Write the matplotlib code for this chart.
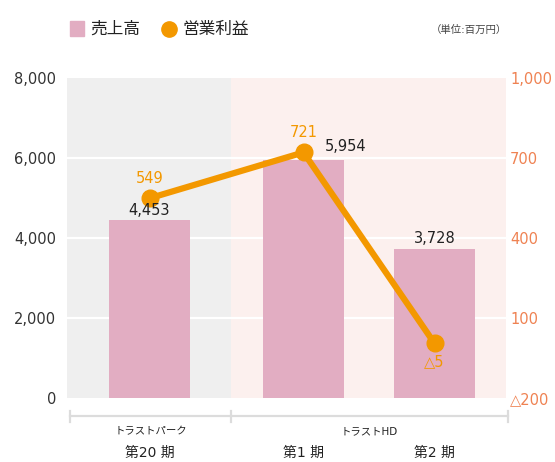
import matplotlib.pyplot as plt
from matplotlib.patches import Rectangle
from matplotlib.lines import Line2D
from matplotlib.transforms import blended_transform_factory

plt.rcParams['font.family'] = ['DejaVu Sans', 'Noto Sans CJK JP']

# data
periods = ['第20 期', '第1 期', '第2 期']
groups = ['トラストパーク', 'トラストHD']
sales = [4453, 5954, 3728]
profit = [549, 721, 5]
sales_labels = ['4,453', '5,954', '3,728']
profit_labels = ['549', '721', '△5']
left_ticks = [0, 2000, 4000, 6000, 8000]
left_ticklabels = ['0', '2,000', '4,000', '6,000', '8,000']
right_ticks = [-200, 100, 400, 700, 1000]
right_ticklabels = ['△200', '100', '400', '700', '1,000']

# layout (pixel-like x units)
W, H = 555, 462
xpos = [149.5, 303.5, 434.5]
bar_w = 81
x_left, x_sep, x_right = 67, 231, 506

BAR = '#e2adc2'
ORANGE = '#f39800'
CORAL = '#ef8252'
TXT = '#222222'


def fx(px):
    return px / W


def fy(py):
    return 1 - py / H


fig = plt.figure(figsize=(W / 100, H / 100), dpi=100)
ax = fig.add_axes([fx(x_left), fy(398), (x_right - x_left) / W, 320 / H])
ax.set_xlim(x_left, x_right)
ax.set_ylim(0, 8000)

ax.axvspan(x_left, x_sep, color='#efefef', zorder=0, lw=0)
ax.axvspan(x_sep, x_right, color='#fcf0ee', zorder=0, lw=0)
for v in left_ticks[1:-1]:
    ax.axhline(v, color='white', lw=1.6, zorder=1)

ax.bar(xpos, sales, width=bar_w, color=BAR, zorder=2)

ax.set_yticks(left_ticks)
ax.set_yticklabels(left_ticklabels, fontsize=10.5, color='#333333')
ax.set_xticks([])
ax.tick_params(axis='y', length=0, pad=8)
for s in ax.spines.values():
    s.set_visible(False)

ax2 = ax.twinx()
ax2.set_ylim(-200, 1000)
ax2.plot(xpos, profit, color=ORANGE, lw=4.5, marker='o', markersize=12,
         solid_capstyle='round', zorder=5)
profit_offsets = [(0, 9), (0, 9), (0, -8)]
for x, v, lab, off in zip(xpos, profit, profit_labels, profit_offsets):
    ax2.annotate(lab, (x, v), xytext=off, textcoords='offset points',
                 ha='center', va='bottom' if off[1] > 0 else 'top',
                 fontsize=10.5, color=ORANGE)
ax2.set_yticks(right_ticks)
ax2.set_yticklabels(right_ticklabels, fontsize=10.5, color=CORAL)
ax2.tick_params(axis='y', length=0, pad=3)
for s in ax2.spines.values():
    s.set_visible(False)

# bar value labels on top of everything
sales_offsets = [(0, 1), (30, 4), (0, 2)]
for x, v, lab, off in zip(xpos, sales, sales_labels, sales_offsets):
    ax2.annotate(lab, (x, v * 1200 / 8000 - 200), xytext=off,
                 textcoords='offset points', ha='center', va='bottom',
                 fontsize=10.5, color=TXT, zorder=6)

# group bracket under the axis
tr = blended_transform_factory(ax.transData, ax.transAxes)
by = -18 / 320
ax.plot([70, 508], [by, by], color='#dcdcdc', lw=1.6, transform=tr, clip_on=False)
for bx in [70, x_sep, 508]:
    ax.plot([bx, bx], [by + 5 / 320, by - 6 / 320], color='#dcdcdc', lw=1.6,
            transform=tr, clip_on=False)
ax.text((70 + x_sep) / 2, -33 / 320, groups[0], transform=tr, ha='center',
        va='center', fontsize=7.5, color=TXT)
ax.text((x_sep + 508) / 2, -33 / 320, groups[1], transform=tr, ha='center',
        va='center', fontsize=7.5, color=TXT)
for x, lab in zip(xpos, periods):
    ax.text(x, -55 / 320, lab, transform=tr, ha='center', va='center',
            fontsize=10, color=TXT)

# legend
fig.patches.append(Rectangle((fx(70), fy(36)), 14 / W, 15 / H, color=BAR,
                             transform=fig.transFigure))
fig.text(fx(90), fy(28.5), '売上高', fontsize=12, va='center', color=TXT)
fig.lines.append(Line2D([fx(169)], [fy(28.5)], marker='o', markersize=11,
                        color=ORANGE, transform=fig.transFigure))
fig.text(fx(182), fy(28.5), '営業利益', fontsize=12, va='center', color=TXT)
fig.text(fx(507), fy(30), '（単位:百万円）', fontsize=7.5, ha='right',
         va='center', color='#444444')

fig.savefig('out.png', dpi=100)
